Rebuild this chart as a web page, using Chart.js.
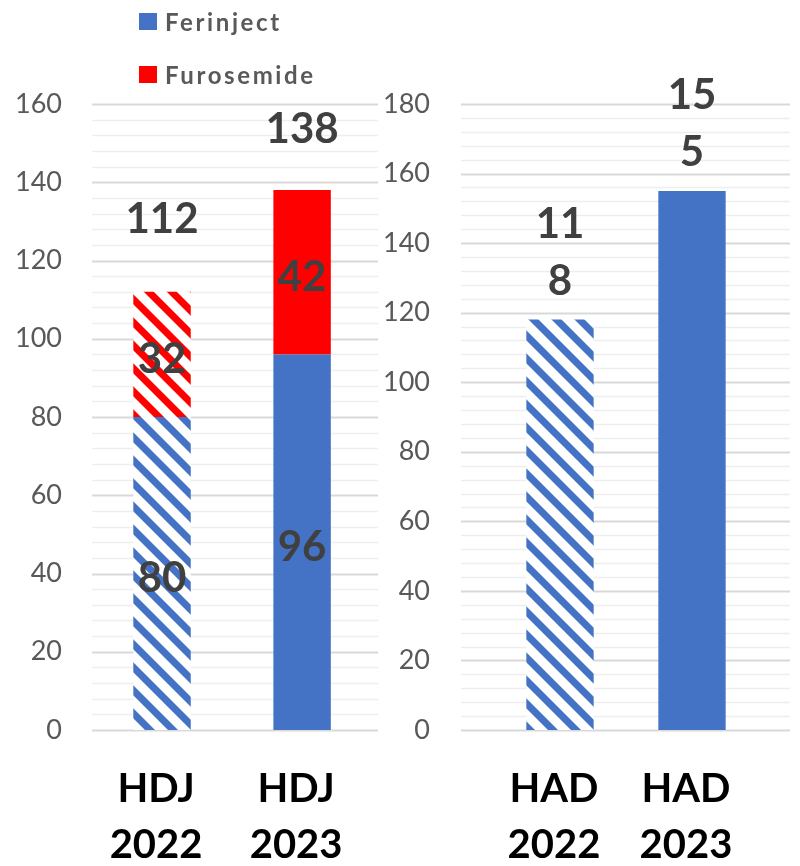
<!DOCTYPE html>
<html>
<head>
<meta charset="utf-8">
<script src="https://cdn.jsdelivr.net/npm/chart.js@4.4.1/dist/chart.umd.min.js"></script>
<style>
  html, body { margin: 0; padding: 0; background: #ffffff; }
  #wrap { position: relative; width: 800px; height: 866px; overflow: hidden; }
  #hdj { position: absolute; left: 0; top: 0; }
  #had { position: absolute; left: 380px; top: 0; }
  .legend-item { position: absolute; left: 139px; display: flex; align-items: center;
    font: bold 24px Lato, sans-serif; color: #595959; letter-spacing: 2.6px; height: 18px; }
  .legend-item i { display: inline-block; width: 18px; height: 17px; margin-right: 8px; }
</style>
</head>
<body>
<div id="wrap">
  <canvas id="hdj" width="380" height="866"></canvas>
  <canvas id="had" width="420" height="866"></canvas>
  <div class="legend-item" style="top:12px"><i style="background:#4472C4"></i>Ferinject</div>
  <div class="legend-item" style="top:65px"><i style="background:#FF0000"></i>Furosemide</div>
</div>
<script>
// Day-hospital (HDJ) and home-hospitalisation (HAD) activity, 2022 vs 2023
const hdjCategories = [['HDJ', '2022'], ['HDJ', '2023']];
const hdjFerinject = [80, 96];
const hdjFurosemide = [32, 42];
const hdjAxisMax = 160;

const hadCategories = [['HAD', '2022'], ['HAD', '2023']];
const hadFerinject = [118, 155];
const hadAxisMax = 180;

const tickStep = 20;
const minorStep = 4;

const BLUE = '#4472C4';
const RED = '#FF0000';

// Diagonal "\" hatching used for the 2022 bars
function hatch(color) {
  const s = 23, band = 10;
  const c = document.createElement('canvas');
  c.width = s; c.height = s;
  const g = c.getContext('2d');
  g.fillStyle = '#ffffff';
  g.fillRect(0, 0, s, s);
  g.fillStyle = color;
  g.beginPath();
  g.moveTo(0, 0); g.lineTo(s, s); g.lineTo(s, s + band); g.lineTo(0, band); g.closePath();
  g.moveTo(0, -s); g.lineTo(s, 0); g.lineTo(s, band); g.lineTo(0, band - s); g.closePath();
  g.fill();
  return g.createPattern(c, 'repeat');
}

// Major and minor horizontal gridlines, drawn behind the bars
const gridPlugin = {
  id: 'gridLines',
  beforeDatasetsDraw(chart, args, opts) {
    const ctx = chart.ctx;
    const y = chart.scales.y;
    const x0 = opts.from, x1 = opts.to;
    ctx.save();
    for (let v = 0; v <= y.max + 1e-9; v += minorStep) {
      const major = v % tickStep === 0;
      const py = Math.round(y.getPixelForValue(v)) + 0.5;
      ctx.strokeStyle = major ? '#d9d9d9' : '#eeeeee';
      ctx.lineWidth = major ? 2 : 1.5;
      ctx.beginPath();
      ctx.moveTo(x0, py);
      ctx.lineTo(x1, py);
      ctx.stroke();
    }
    ctx.restore();
  }
};

// Segment values inside stacks, totals above them
const valuePlugin = {
  id: 'valueLabels',
  afterDatasetsDraw(chart, args, opts) {
    const ctx = chart.ctx;
    const yScale = chart.scales.y;
    ctx.save();
    ctx.font = 'bold 42px Lato, sans-serif';
    ctx.fillStyle = '#404040';
    ctx.textAlign = 'center';
    ctx.textBaseline = 'alphabetic';
    const half = 15.5;
    if (opts.segments) {
      chart.data.datasets.forEach((ds, di) => {
        chart.getDatasetMeta(di).data.forEach((bar, i) => {
          const p = bar.getProps(['x', 'y', 'base'], true);
          ctx.fillText(String(ds.data[i]), p.x, (p.y + p.base) / 2 + 3 + half);
        });
      });
    }
    const meta0 = chart.getDatasetMeta(0);
    chart.data.labels.forEach((lab, i) => {
      const total = chart.data.datasets.reduce((s, ds) => s + ds.data[i], 0);
      const top = yScale.getPixelForValue(total);
      const text = String(total);
      const lines = [];
      const w = opts.wrap || text.length;
      for (let k = 0; k < text.length; k += w) lines.push(text.slice(k, k + w));
      const baseY = top - opts.lift[i];
      lines.forEach((ln, k) => {
        ctx.fillText(ln, meta0.data[i].x, baseY - (lines.length - 1 - k) * opts.lineGap);
      });
    });
    ctx.restore();
  }
};

function baseOptions(max, axisWidth, tickPad, padRight, grid, labels) {
  return {
    responsive: false,
    animation: false,
    layout: { padding: { top: 104, right: padRight, left: 0, bottom: 0 } },
    plugins: {
      legend: { display: false },
      tooltip: { enabled: false },
      gridLines: grid,
      valueLabels: labels
    },
    scales: {
      x: {
        stacked: true,
        grid: { display: false, drawTicks: false },
        border: { display: false },
        ticks: {
          color: '#000000',
          font: { family: 'Lato', weight: 'bold', size: 40, lineHeight: 1.4 },
          padding: 31,
          labelOffset: -6,
          maxRotation: 0,
          autoSkip: false
        },
        afterFit(scale) { scale.height = 136; }
      },
      y: {
        stacked: true,
        min: 0,
        max: max,
        grid: { display: false, drawTicks: false },
        border: { display: false },
        ticks: {
          stepSize: tickStep,
          color: '#595959',
          font: { family: 'Lato', size: 27 },
          padding: tickPad
        },
        afterFit(scale) { scale.width = axisWidth; }
      }
    }
  };
}

new Chart(document.getElementById('hdj'), {
  type: 'bar',
  data: {
    labels: hdjCategories,
    datasets: [
      {
        label: 'Ferinject',
        data: hdjFerinject,
        backgroundColor: [hatch(BLUE), BLUE],
        categoryPercentage: 1,
        barPercentage: 0.41
      },
      {
        label: 'Furosemide',
        data: hdjFurosemide,
        backgroundColor: [hatch(RED), RED],
        categoryPercentage: 1,
        barPercentage: 0.41
      }
    ]
  },
  options: baseOptions(hdjAxisMax, 92, 30, 2,
    { from: 92, to: 378 },
    { segments: true, lift: [59, 47], lineGap: 57 }),
  plugins: [gridPlugin, valuePlugin]
});

new Chart(document.getElementById('had'), {
  type: 'bar',
  data: {
    labels: hadCategories,
    datasets: [
      {
        label: 'Ferinject',
        data: hadFerinject,
        backgroundColor: [hatch(BLUE), BLUE],
        categoryPercentage: 1,
        barPercentage: 0.51
      }
    ]
  },
  options: baseOptions(hadAxisMax, 114, 64, 42,
    { from: 81, to: 410 },
    { segments: false, wrap: 2, lift: [25, 25], lineGap: 57 }),
  plugins: [gridPlugin, valuePlugin]
});
</script>
</body>
</html>
